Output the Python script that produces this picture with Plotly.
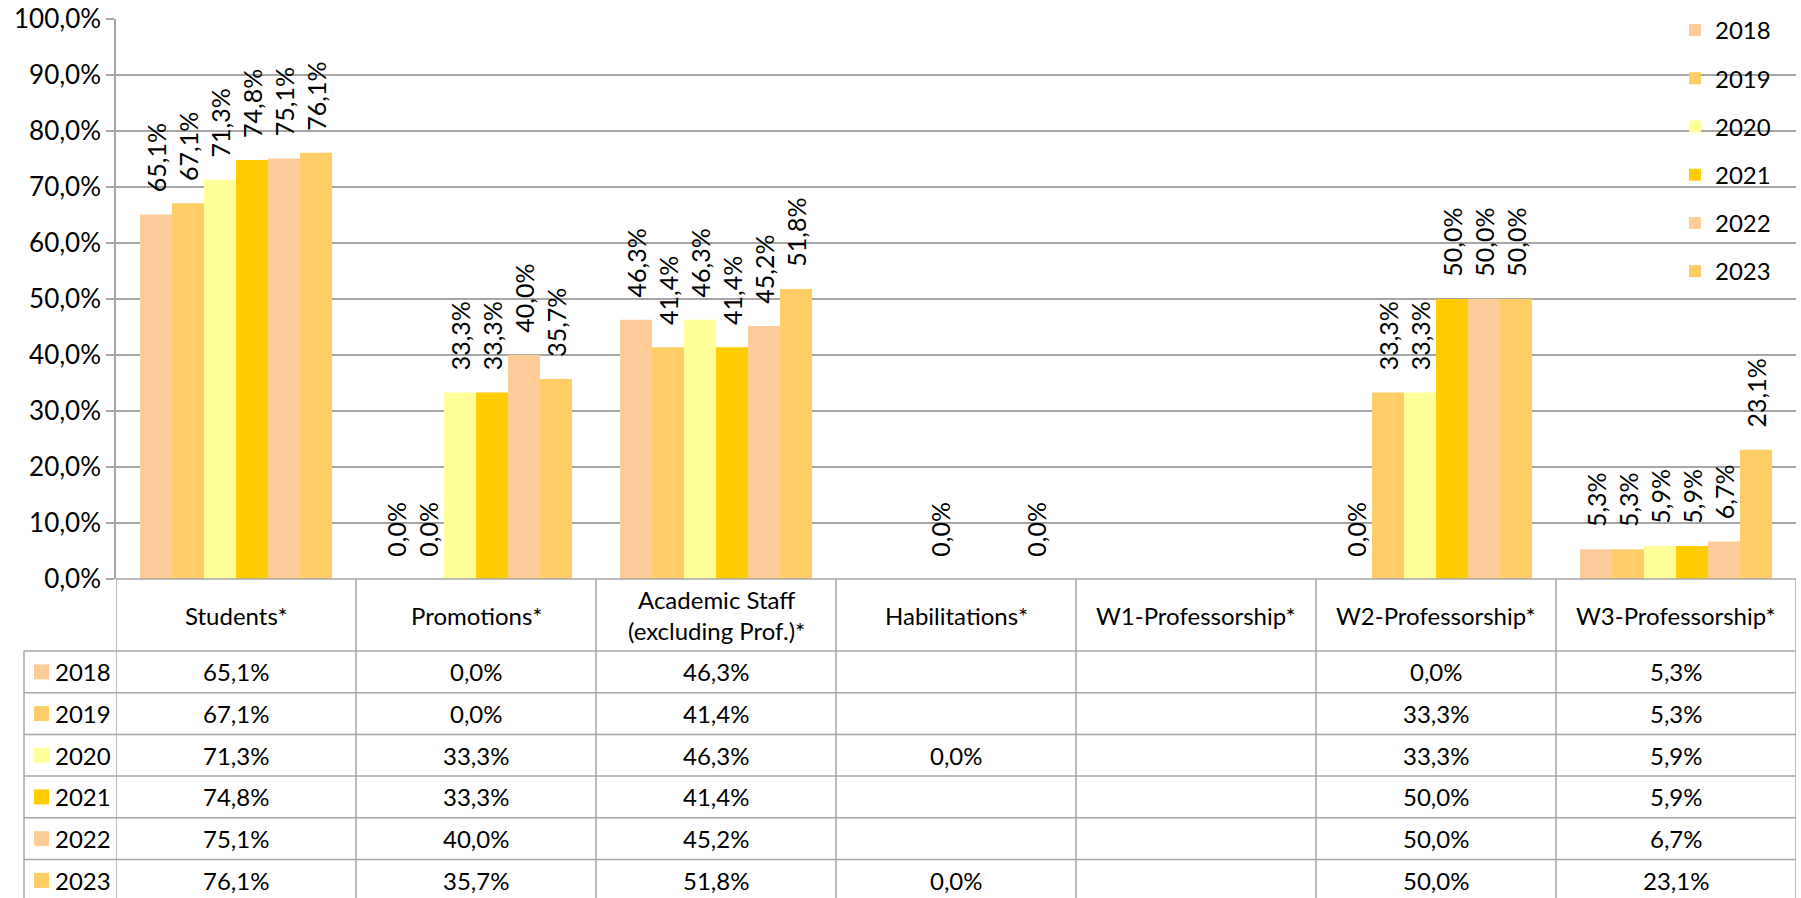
import plotly.graph_objects as go

categories = ["Students*", "Promotions*", "Academic Staff<br>(excluding Prof.)*", "Habilitations*",
              "W1-Professorship*", "W2-Professorship*", "W3-Professorship*"]
years = ["2018", "2019", "2020", "2021", "2022", "2023"]
v2018 = [65.1, 0.0, 46.3, None, None, 0.0, 5.3]
v2019 = [67.1, 0.0, 41.4, None, None, 33.3, 5.3]
v2020 = [71.3, 33.3, 46.3, 0.0, None, 33.3, 5.9]
v2021 = [74.8, 33.3, 41.4, None, None, 50.0, 5.9]
v2022 = [75.1, 40.0, 45.2, None, None, 50.0, 6.7]
v2023 = [76.1, 35.7, 51.8, 0.0, None, 50.0, 23.1]
series = [v2018, v2019, v2020, v2021, v2022, v2023]
colors = ["#FFCC99", "#FFCC66", "#FFFF99", "#FFCC00", "#FFCC99", "#FFCC66"]
y_ticks = [0, 10, 20, 30, 40, 50, 60, 70, 80, 90, 100]

FONT = "Lato"
FS = 24
FS_TICK = 26
FS_LABEL = 25
GRID = "#A6A6A6"

W, H = 1801, 898
L, R, T, B = 116, 5, 19, 319
pw, ph = W - L - R, H - T - B


def px_x(px):
    return (px - L) / pw


def px_y(py):
    return (H - B - py) / ph


def fmt(v):
    return ("%.1f%%" % v).replace(".", ",")


PAD = "\u00a0\u00a0\u00a0"

xs = list(range(len(categories)))
fig = go.Figure()
for i, (yr, vals) in enumerate(zip(years, series)):
    fig.add_trace(go.Bar(
        x=xs, y=vals, name=yr, marker=dict(color=colors[i], line=dict(width=0)),
        text=[None if v is None else PAD + fmt(v) for v in vals],
        textposition="outside", textangle=-90, constraintext="none", cliponaxis=False,
        textfont=dict(family=FONT, size=FS_LABEL, color="black"),
        legendgroup=yr, hoverinfo="skip",
    ))

shapes = []
annotations = []
header_top, header_bot = H - B, 651
row_h = 41.7
row_lines = [header_bot + k * row_h for k in range(len(years) + 1)]
left_px = 24
line = dict(color=GRID, width=1.5)
shapes.append(dict(type="line", xref="paper", yref="paper", x0=0, x1=1,
                   y0=px_y(header_top), y1=px_y(header_top), line=line))
for ry in row_lines:
    shapes.append(dict(type="line", xref="paper", yref="paper", x0=px_x(left_px), x1=1,
                       y0=px_y(ry), y1=px_y(ry), line=line))
for k in range(len(categories) + 1):
    shapes.append(dict(type="line", xref="x", yref="paper", x0=k - 0.5, x1=k - 0.5,
                       y0=px_y(header_top), y1=px_y(H + 5), line=line))
shapes.append(dict(type="line", xref="paper", yref="paper", x0=px_x(left_px), x1=px_x(left_px),
                   y0=px_y(header_bot), y1=px_y(H + 5), line=line))

for k, c in enumerate(categories):
    annotations.append(dict(x=k, y=px_y((header_top + header_bot) / 2), xref="x", yref="paper",
                            xanchor="center", yanchor="middle",
                            text=c, showarrow=False, font=dict(family=FONT, size=FS, color="black"),
                            align="center"))
for r, (yr, vals) in enumerate(zip(years, series)):
    cy = row_lines[r] + row_h / 2
    shapes.append(dict(type="rect", xref="paper", yref="paper", x0=px_x(34), x1=px_x(49),
                       y0=px_y(cy - 7.5), y1=px_y(cy + 7.5), fillcolor=colors[r], line=dict(width=0)))
    annotations.append(dict(x=px_x(53), y=px_y(cy), xref="paper", yref="paper", text=yr,
                            xanchor="left", yanchor="middle",
                            showarrow=False, font=dict(family=FONT, size=FS, color="black")))
    for k, v in enumerate(vals):
        if v is None:
            continue
        annotations.append(dict(x=k, y=px_y(cy), xref="x", yref="paper", text=fmt(v),
                                xanchor="center", yanchor="middle", showarrow=False,
                                font=dict(family=FONT, size=FS, color="black")))

fig.update_layout(
    width=W, height=H, margin=dict(l=L, r=R, t=T, b=B, autoexpand=False),
    paper_bgcolor="white", plot_bgcolor="white",
    barmode="group", bargap=0.2, bargroupgap=0, hovermode=False,
    separators=",.",
    font=dict(family=FONT, size=FS, color="black"),
    xaxis=dict(range=[-0.5, len(categories) - 0.5], showticklabels=False, showgrid=False,
               zeroline=False, showline=False, ticks=""),
    yaxis=dict(range=[0, 100], tickvals=y_ticks, ticktext=[fmt(t) for t in y_ticks],
               showgrid=True, gridcolor=GRID, gridwidth=1.5, zeroline=False,
               showline=True, linecolor=GRID, linewidth=1.5, ticks="outside", ticklen=8, tickcolor=GRID,
               tickwidth=1.5, tickfont=dict(family=FONT, size=FS_TICK, color="black")),
    legend=dict(x=px_x(1675), y=px_y(8), xanchor="left", yanchor="top", bgcolor="rgba(0,0,0,0)",
                font=dict(family=FONT, size=FS, color="black"), tracegroupgap=14, itemwidth=30),
    shapes=shapes, annotations=annotations, showlegend=True,
)
fig.write_html("out.html", config={"displayModeBar": False},
               post_script="document.body.style.margin='0';document.body.style.overflow='hidden';")
